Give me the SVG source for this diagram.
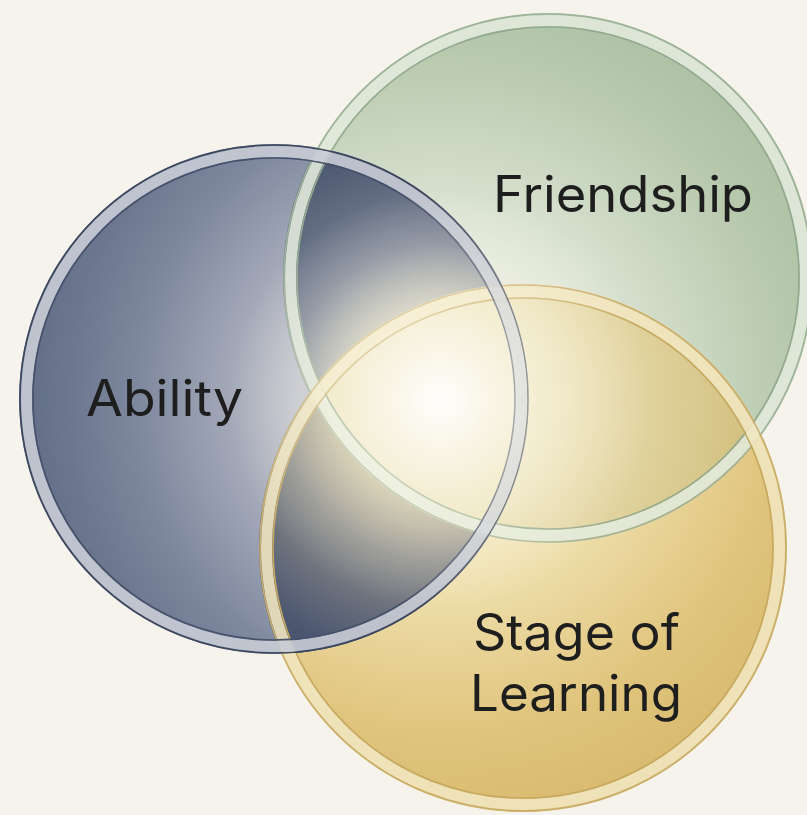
<svg xmlns="http://www.w3.org/2000/svg" width="807" height="815" viewBox="0 0 807 815">
  <defs>
    <radialGradient id="gA" gradientUnits="userSpaceOnUse" cx="440" cy="400" r="440">
      <stop offset="0" stop-color="#e6e6e6"/>
      <stop offset="0.35" stop-color="#b9bcc8"/>
      <stop offset="0.7" stop-color="#7c869c"/>
      <stop offset="1" stop-color="#5c6782"/>
    </radialGradient>
    <radialGradient id="gF" gradientUnits="userSpaceOnUse" cx="440" cy="400" r="480">
      <stop offset="0" stop-color="#f6f6ec"/>
      <stop offset="0.35" stop-color="#dfe6d7"/>
      <stop offset="0.7" stop-color="#bacbb0"/>
      <stop offset="1" stop-color="#a6ba9c"/>
    </radialGradient>
    <radialGradient id="gS" gradientUnits="userSpaceOnUse" cx="440" cy="400" r="480">
      <stop offset="0" stop-color="#faf4dc"/>
      <stop offset="0.35" stop-color="#f0e2b2"/>
      <stop offset="0.7" stop-color="#e0c47c"/>
      <stop offset="1" stop-color="#d4b668"/>
    </radialGradient>
    <radialGradient id="gAF" gradientUnits="userSpaceOnUse" cx="440" cy="400" r="260">
      <stop offset="0" stop-color="#f2eedc"/>
      <stop offset="0.3" stop-color="#cfcdb6"/>
      <stop offset="0.6" stop-color="#7a8294"/>
      <stop offset="1" stop-color="#4e5a72"/>
    </radialGradient>
    <radialGradient id="gAS" gradientUnits="userSpaceOnUse" cx="440" cy="400" r="270">
      <stop offset="0" stop-color="#f2eed6"/>
      <stop offset="0.3" stop-color="#d4c89a"/>
      <stop offset="0.6" stop-color="#8a8a88"/>
      <stop offset="1" stop-color="#4a5570"/>
    </radialGradient>
    <radialGradient id="gFS" gradientUnits="userSpaceOnUse" cx="440" cy="400" r="300">
      <stop offset="0" stop-color="#f8f4e2"/>
      <stop offset="0.4" stop-color="#ece2b8"/>
      <stop offset="1" stop-color="#d4c282"/>
    </radialGradient>
    <radialGradient id="gGlow" gradientUnits="userSpaceOnUse" cx="440" cy="400" r="210">
      <stop offset="0" stop-color="#ffffff" stop-opacity="0.85"/>
      <stop offset="0.45" stop-color="#fbf8ea" stop-opacity="0.45"/>
      <stop offset="1" stop-color="#fbf8ea" stop-opacity="0"/>
    </radialGradient>
    <clipPath id="cA"><circle cx="274" cy="399" r="255"/></clipPath>
    <clipPath id="cF"><circle cx="548" cy="278" r="265"/></clipPath>
    <clipPath id="cS"><circle cx="523" cy="548" r="264"/></clipPath>
  </defs>
  <style>
    .lbl { font-family: Inter, "Liberation Sans", sans-serif; font-size: 50px; fill: #1e1e1e; }
    .band { fill: none; stroke-width: 11; }
    .line { fill: none; stroke-width: 1.6; }
  </style>
  <rect width="807" height="815" fill="#f6f3ec"/>

  <g id="fills">
    <circle cx="548" cy="278" r="265" fill="url(#gF)"/>
    <circle cx="523" cy="548" r="264" fill="url(#gS)"/>
    <circle cx="274" cy="399" r="255" fill="url(#gA)"/>
    <g clip-path="url(#cA)"><circle cx="548" cy="278" r="265" fill="url(#gAF)"/></g>
    <g clip-path="url(#cA)"><circle cx="523" cy="548" r="264" fill="url(#gAS)"/></g>
    <g clip-path="url(#cF)"><circle cx="523" cy="548" r="264" fill="url(#gFS)"/></g>
  </g>

  <g id="ring-friendship">
    <circle cx="548" cy="278" r="264" class="line" stroke="#9fb39a"/>
    <circle cx="548" cy="278" r="257.5" class="band" stroke="#e2eadc" opacity="0.9"/>
    <circle cx="548" cy="278" r="251" class="line" stroke="#93a98f"/>
  </g>
  <g id="ring-stage">
    <circle cx="523" cy="548" r="263" class="line" stroke="#c9ae6c"/>
    <circle cx="523" cy="548" r="256.5" class="band" stroke="#f1e6c0" opacity="0.9"/>
    <circle cx="523" cy="548" r="250" class="line" stroke="#c6a960"/>
  </g>
  <g id="ring-ability">
    <circle cx="274" cy="399" r="254" class="line" stroke="#3c465c"/>
    <circle cx="274" cy="399" r="247.5" class="band" stroke="#c8ccd6" opacity="0.9"/>
    <circle cx="274" cy="399" r="241" class="line" stroke="#46516a"/>
  </g>

  <circle cx="440" cy="400" r="210" fill="url(#gGlow)"/>

  <g id="node-ability">
    <text class="lbl" x="164.5" y="416" text-anchor="middle" textLength="157" lengthAdjust="spacingAndGlyphs">Ability</text>
  </g>
  <g id="node-friendship">
    <text class="lbl" x="623" y="212" text-anchor="middle" textLength="260" lengthAdjust="spacingAndGlyphs">Friendship</text>
  </g>
  <g id="node-stage">
    <text class="lbl" x="576.5" y="650" text-anchor="middle" textLength="207" lengthAdjust="spacingAndGlyphs">Stage of</text>
    <text class="lbl" x="576" y="711" text-anchor="middle" textLength="212" lengthAdjust="spacingAndGlyphs">Learning</text>
  </g>
</svg>
